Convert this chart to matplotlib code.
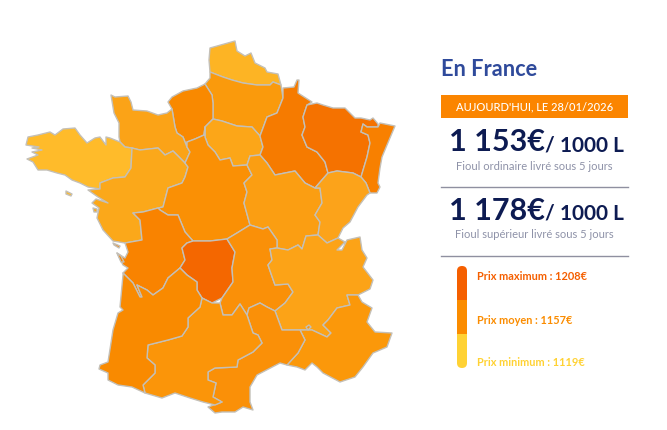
import matplotlib
matplotlib.use('Agg')
import matplotlib.pyplot as plt
from matplotlib.patches import Polygon, Rectangle, FancyBboxPatch

plt.rcParams['font.family'] = ['Lato', 'DejaVu Sans']

# Outlines (x, y in image pixels)
nord = [(210,48),(235,41),(237,51),(245,56),(251,53),(255,63),(265,68),(267,72),(278,74),(281,85),(273,82),(270,85),(257,85),(243,83),(232,80),(223,77),(210,72),(209,60)]
picardie = [(210,72),(223,77),(232,80),(243,83),(257,85),(270,85),(273,82),(281,85),(283,98),(277,113),(267,117),(263,128),(260,136),(252,127),(237,126),(222,121),(213,119),(213,103),(212,95),(205,84),(210,78)]
haute_normandie = [(172,109),(168,102),(172,97),(183,91),(197,88),(205,84),(212,95),(213,103),(213,119),(205,127),(204,135),(195,139),(187,142),(187,147),(183,137),(177,133),(175,127)]
basse_normandie = [(120,142),(119,137),(119,123),(114,113),(111,95),(115,97),(128,96),(131,102),(133,110),(147,111),(158,115),(167,113),(172,109),(175,127),(177,133),(183,137),(187,147),(190,152),(185,163),(173,151),(165,155),(158,148),(140,150),(132,148),(125,147)]
bretagne = [(120,142),(110,138),(106,137),(106,145),(100,137),(95,138),(87,143),(80,135),(75,128),(63,129),(55,135),(50,132),(38,135),(28,137),(26,145),(39,147),(32,148),(42,150),(32,152),(38,155),(27,159),(33,162),(38,170),(47,170),(57,173),(65,175),(72,180),(80,183),(88,187),(100,189),(100,183),(113,178),(125,177),(131,168),(132,148),(125,147)]
pays_de_la_loire = [(132,148),(140,150),(158,148),(165,155),(173,151),(185,163),(188,167),(185,177),(182,183),(168,188),(163,207),(158,208),(143,212),(133,213),(140,220),(142,240),(125,243),(113,241),(103,230),(97,218),(99,208),(92,203),(96,199),(108,203),(98,197),(88,190),(100,189),(100,183),(113,178),(125,177),(131,168)]
ile_de_france = [(205,127),(213,119),(222,121),(237,126),(252,127),(260,136),(263,147),(260,155),(250,156),(247,165),(233,166),(230,158),(220,160),(215,152),(208,145),(205,137)]
centre = [(187,147),(187,142),(195,139),(204,135),(205,127),(205,137),(208,145),(215,152),(220,160),(230,158),(233,166),(247,165),(252,175),(244,183),(247,192),(244,203),(250,225),(237,233),(227,239),(210,241),(193,241),(185,232),(178,215),(168,215),(160,210),(158,208),(163,207),(168,188),(182,183),(185,177),(188,167),(185,163),(190,152)]
champagne = [(283,88),(294,87),(297,80),(299,80),(298,93),(312,102),(307,105),(303,117),(305,127),(302,135),(307,147),(317,152),(325,162),(328,173),(315,188),(305,183),(295,171),(275,175),(267,163),(260,155),(263,147),(260,136),(263,128),(267,117),(277,113),(283,98)]
lorraine = [(307,105),(317,103),(323,105),(333,108),(345,108),(355,118),(361,118),(370,120),(373,118),(378,124),(378,127),(367,127),(363,124),(361,132),(368,135),(370,143),(367,157),(361,177),(353,173),(337,171),(328,173),(325,162),(317,152),(307,147),(302,135),(305,127),(303,117)]
alsace = [(363,124),(367,127),(378,127),(380,123),(395,126),(387,145),(382,157),(380,168),(378,183),(380,187),(377,193),(370,193),(366,183),(361,177),(367,157),(370,143),(368,135),(361,132)]
bourgogne = [(247,165),(250,156),(260,155),(267,163),(275,175),(295,171),(305,183),(315,188),(320,188),(322,203),(315,215),(320,222),(318,235),(306,236),(302,249),(298,245),(288,250),(277,248),(277,240),(268,227),(263,229),(250,225),(244,203),(247,192),(244,183),(252,175)]
franche_comte = [(315,188),(328,173),(337,171),(353,173),(361,177),(366,183),(370,193),(367,195),(358,207),(350,222),(343,228),(338,238),(327,243),(318,235),(320,222),(315,215),(322,203),(320,188)]
poitou = [(133,213),(140,220),(142,240),(125,243),(128,252),(125,258),(117,253),(123,265),(128,268),(123,273),(133,283),(140,297),(142,297),(137,285),(147,290),(153,295),(163,288),(168,278),(180,268),(185,260),(182,248),(187,243),(193,241),(185,232),(178,215),(168,215),(160,210),(158,208),(143,212)]
limousin = [(193,241),(210,241),(227,239),(235,252),(232,268),(233,282),(222,298),(212,303),(202,298),(197,290),(197,282),(187,275),(180,268),(185,260),(182,248),(187,243)]
auvergne = [(227,239),(237,233),(250,225),(263,229),(268,227),(277,240),(277,248),(270,249),(272,260),(268,265),(275,285),(288,284),(293,292),(285,303),(275,311),(267,307),(260,303),(249,308),(247,315),(240,304),(232,315),(223,315),(220,303),(222,298),(233,282),(232,268),(235,252)]
rhone_alpes = [(277,248),(288,250),(298,245),(302,249),(306,236),(318,235),(327,243),(338,238),(345,242),(337,250),(342,250),(347,240),(360,237),(362,250),(367,258),(363,267),(373,280),(370,289),(358,295),(347,295),(350,305),(337,308),(328,320),(323,325),(331,333),(327,337),(312,330),(300,330),(282,330),(275,311),(285,303),(293,292),(288,284),(275,285),(268,265),(272,260),(270,249)]
paca = [(358,295),(362,302),(372,308),(367,322),(375,332),(392,333),(387,347),(373,353),(363,367),(355,377),(340,382),(323,373),(317,367),(312,363),(305,370),(297,367),(287,365),(298,353),(305,340),(300,330),(312,330),(327,337),(331,333),(323,325),(328,320),(337,308),(350,305),(347,295)]
languedoc = [(249,308),(260,303),(267,307),(275,311),(282,330),(300,330),(305,340),(298,353),(287,365),(280,363),(257,375),(250,387),(250,402),(253,410),(243,407),(235,412),(222,412),(215,413),(208,407),(222,402),(213,397),(216,383),(208,380),(208,372),(215,368),(237,367),(238,360),(253,352),(262,343),(258,335),(253,333),(247,315)]
midi_pyrenees = [(202,298),(212,303),(220,303),(223,315),(232,315),(240,304),(247,315),(253,333),(258,335),(262,343),(253,352),(238,360),(237,367),(215,368),(208,372),(208,380),(216,383),(213,397),(222,402),(215,405),(203,402),(190,398),(175,393),(162,398),(145,393),(143,385),(155,373),(155,365),(147,358),(148,345),(168,340),(182,336),(188,327),(188,318),(200,307)]
aquitaine = [(180,268),(187,275),(197,282),(197,290),(202,298),(200,307),(188,318),(188,327),(182,336),(168,340),(148,345),(147,358),(155,365),(155,373),(143,385),(145,393),(132,387),(118,385),(108,380),(108,373),(99,369),(100,365),(108,362),(113,330),(118,313),(123,310),(120,307),(123,275),(123,273),(133,283),(140,297),(142,297),(137,285),(147,290),(153,295),(163,288),(168,278)]

# islands and the Valreas enclave
belle_ile = [(66,191),(72,194),(71,196),(66,194)]
noirmoutier = [(93,208),(97,209),(97,212),(94,212)]
ile_de_re = [(113,243),(120,246),(119,248),(114,245)]
oleron = [(117,253),(121,256),(124,262),(121,262)]
valreas = [(306,327),(309,325),(311,327),(308,330)]

regions = [nord, picardie, haute_normandie, basse_normandie, bretagne, pays_de_la_loire,
           ile_de_france, centre, champagne, lorraine, alsace, bourgogne, franche_comte,
           poitou, limousin, auvergne, rhone_alpes, paca, languedoc, midi_pyrenees, aquitaine,
           belle_ile, noirmoutier, ile_de_re, oleron, valreas]
region_colors = ['#FDB424', '#FA9A0C', '#F98900', '#FBA317', '#FFBB2A', '#FBA81A',
                 '#FCA618', '#FA9005', '#F67B00', '#F57200', '#F88000', '#FB9E12', '#FCA31A',
                 '#F98300', '#F46700', '#FA9008', '#FCA317', '#FB980A', '#FA9008', '#FB9509', '#F98A00',
                 '#FFBB2A', '#FBA81A', '#F98300', '#F98300', '#FB980A']

title = 'En France'
date_label = "AUJOURD'HUI, LE 28/01/2026"
prices = ['1 153€', '1 178€']
price_unit = '/ 1000 L'
price_notes = ['Fioul ordinaire livré sous 5 jours', 'Fioul supérieur livré sous 5 jours']
legend_labels = ['Prix maximum : 1208€', 'Prix moyen : 1157€', 'Prix minimum : 1119€']
legend_colors = ['#F55F00', '#FB8C00', '#FFD234']

fig = plt.figure(figsize=(6.67, 4.30), dpi=100)
ax = fig.add_axes([0, 0, 1, 1])
ax.set_xlim(0, 667)
ax.set_ylim(430, 0)
ax.axis('off')

for outline, color in zip(regions, region_colors):
    ax.add_patch(Polygon(outline, closed=True, facecolor=color, edgecolor='#C4C0B8', linewidth=1.0, joinstyle='round'))

# right hand panel
ax.text(441, 70, title, fontsize=15.7, fontweight='bold', color='#2F4A9B', va='center', ha='left')
ax.add_patch(Rectangle((441, 95), 187, 23, facecolor='#FB8500', edgecolor='none'))
ax.text(534.5, 107, date_label, fontsize=8, fontweight='medium', color='white', va='center', ha='center')

for i, y in enumerate([140, 209]):
    ax.text(449, y + 11, prices[i], fontsize=22, fontweight='bold', color='#0D1B52', va='baseline', ha='left')
    ax.text(545, y + 11, price_unit, fontsize=15, fontweight='bold', color='#0D1B52', va='baseline', ha='left')
    ax.text(534.5, y + 26, price_notes[i], fontsize=8, color='#8E92A8', va='center', ha='center')

ax.plot([441, 628], [186.5, 186.5], color='#8F90A0', linewidth=1)
ax.plot([441, 628], [255.5, 255.5], color='#8F90A0', linewidth=1)

# colour bar with round ends
bar_shape = FancyBboxPatch((457, 266), 10, 102, boxstyle='round,pad=0,rounding_size=5', facecolor='none', edgecolor='none')
ax.add_patch(bar_shape)
for i, color in enumerate(legend_colors):
    seg = Rectangle((457, 266 + i * 34), 10, 34, facecolor=color, edgecolor='none')
    ax.add_patch(seg)
    seg.set_clip_path(bar_shape)

for label, color, y in zip(legend_labels, legend_colors, [276, 320, 362]):
    ax.text(477, y, label, fontsize=7.9, fontweight='bold', color=color, va='center', ha='left')

fig.savefig('out.png', dpi=100)
